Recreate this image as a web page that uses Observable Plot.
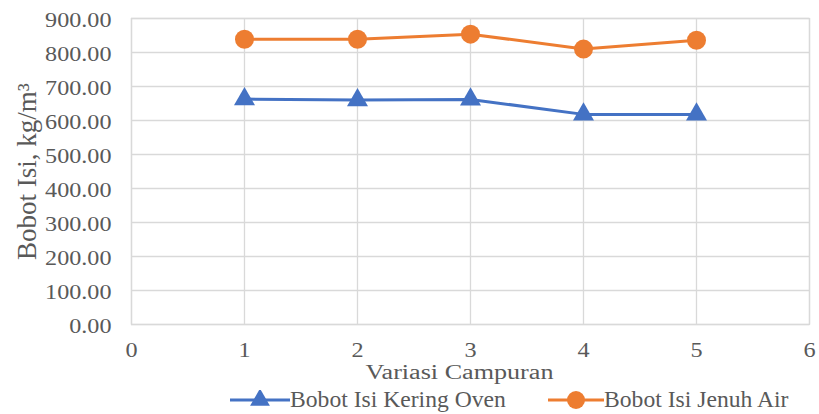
<!DOCTYPE html>
<html>
<head>
<meta charset="utf-8">
<script src="https://cdn.jsdelivr.net/npm/d3@7"></script>
<script src="https://cdn.jsdelivr.net/npm/@observablehq/plot@0.6"></script>
<style>
  html, body { margin: 0; padding: 0; background: #fff; }
  #chart { width: 819px; font-family: "Liberation Serif", "Times New Roman", serif; color: #595959; }
  .legend { display: flex; align-items: center; height: 24px; margin-left: 230px; font-size: 22.5px; color: #595959; }
  .legend .item { display: flex; align-items: center; }
  .legend svg { display: block; }
  .legend span { display: inline-block; transform: scaleX(1.05); transform-origin: left center; white-space: nowrap; }
</style>
</head>
<body>
<div id="chart"></div>
<script>
// Mix variations (x) and unit weight measurements (kg/m³)
const variasi = [1, 2, 3, 4, 5];
const keringOven = [663, 660, 662, 618, 618];
const jenuhAir = [839, 839, 854, 810, 836];
const seriesNames = ["Bobot Isi Kering Oven", "Bobot Isi Jenuh Air"];
const seriesColors = ["#4472C4", "#ED7D31"];
const xTicks = [0, 1, 2, 3, 4, 5, 6];
const yTicks = [0, 100, 200, 300, 400, 500, 600, 700, 800, 900];
const xTitle = "Variasi Campuran";
const yTitle = "Bobot Isi, kg/m³";

const oven = variasi.map((v, i) => ({x: v, y: keringOven[i]}));
const jenuh = variasi.map((v, i) => ({x: v, y: jenuhAir[i]}));
const yFormat = d3.format(".2f");

const chart = Plot.plot({
  width: 819,
  height: 388,
  marginLeft: 131,
  marginRight: 10,
  marginTop: 18,
  marginBottom: 64,
  style: {fontFamily: "'Liberation Serif', 'Times New Roman', serif", fontSize: "21px", color: "#595959", background: "#fff"},
  x: {domain: [0, 6]},
  y: {domain: [0, 900]},
  marks: [
    Plot.gridY(yTicks, {stroke: "#d9d9d9", strokeOpacity: 1, strokeWidth: 1.3}),
    Plot.gridX(xTicks, {stroke: "#d9d9d9", strokeOpacity: 1, strokeWidth: 1.3}),
    Plot.frame({stroke: "#d9d9d9", strokeWidth: 1.3}),
    Plot.axisY(yTicks, {tickSize: 0, tickPadding: 20, tickFormat: yFormat, fontSize: 21, dy: 2, label: null}),
    Plot.axisX(xTicks, {tickSize: 0, tickPadding: 18, fontSize: 21, label: null}),
    // axis titles
    Plot.text([yTitle], {frameAnchor: "left", dx: -104, rotate: -90, fontSize: 27, fill: "#595959", textAnchor: "middle", lineAnchor: "middle"}),
    Plot.text([xTitle], {frameAnchor: "bottom", dy: 48, dx: -11, fontSize: 21.6, fill: "#595959", textAnchor: "middle", lineAnchor: "middle"}),
    Plot.line(oven, {x: "x", y: "y", stroke: seriesColors[0], strokeWidth: 3}),
    Plot.line(jenuh, {x: "x", y: "y", stroke: seriesColors[1], strokeWidth: 3}),
    Plot.dot(oven, {x: "x", y: "y", symbol: "triangle", r: 7.8, fill: seriesColors[0], stroke: "none"}),
    Plot.dot(jenuh, {x: "x", y: "y", symbol: "circle", r: 9.5, fill: seriesColors[1], stroke: "none"})
  ]
});

const root = document.getElementById("chart");
root.appendChild(chart);

// Widen the serif glyphs along their baseline (anchor stays in place)
const yTickTexts = new Set(yTicks.map(yFormat));
const xTickTexts = new Set(xTicks.map(String));
chart.querySelectorAll("text").forEach(t => {
  const s = t.textContent;
  const k = s === xTitle ? 1.21 : yTickTexts.has(s) ? 1.15 : xTickTexts.has(s) ? 1.15 : 1;
  if (k === 1) return;
  const len = t.getComputedTextLength();
  t.setAttribute("textLength", (len * k).toFixed(1));
  t.setAttribute("lengthAdjust", "spacingAndGlyphs");
});

// Legend below the chart
const legend = d3.select(root).append("div").attr("class", "legend");
const swatchWidths = [60, 56];
const gaps = [0, 42];
seriesNames.forEach((name, i) => {
  const item = legend.append("div").attr("class", "item").style("margin-left", gaps[i] + "px");
  const w = swatchWidths[i];
  const sw = item.append("svg").attr("width", w).attr("height", 20);
  sw.append("line").attr("x1", 0).attr("x2", w).attr("y1", 10).attr("y2", 10)
    .attr("stroke", seriesColors[i]).attr("stroke-width", 3);
  if (i === 0) {
    sw.append("path").attr("d", d3.symbol(d3.symbolTriangle, 170)()).attr("transform", `translate(${w / 2},10)`).attr("fill", seriesColors[i]);
  } else {
    sw.append("circle").attr("cx", w / 2).attr("cy", 10).attr("r", 9).attr("fill", seriesColors[i]);
  }
  const span = item.append("span").text(name);
  // reserve the stretched width (the bounding box already includes the scale)
  item.style("width", (w + span.node().getBoundingClientRect().width) + "px");
});
</script>
</body>
</html>
